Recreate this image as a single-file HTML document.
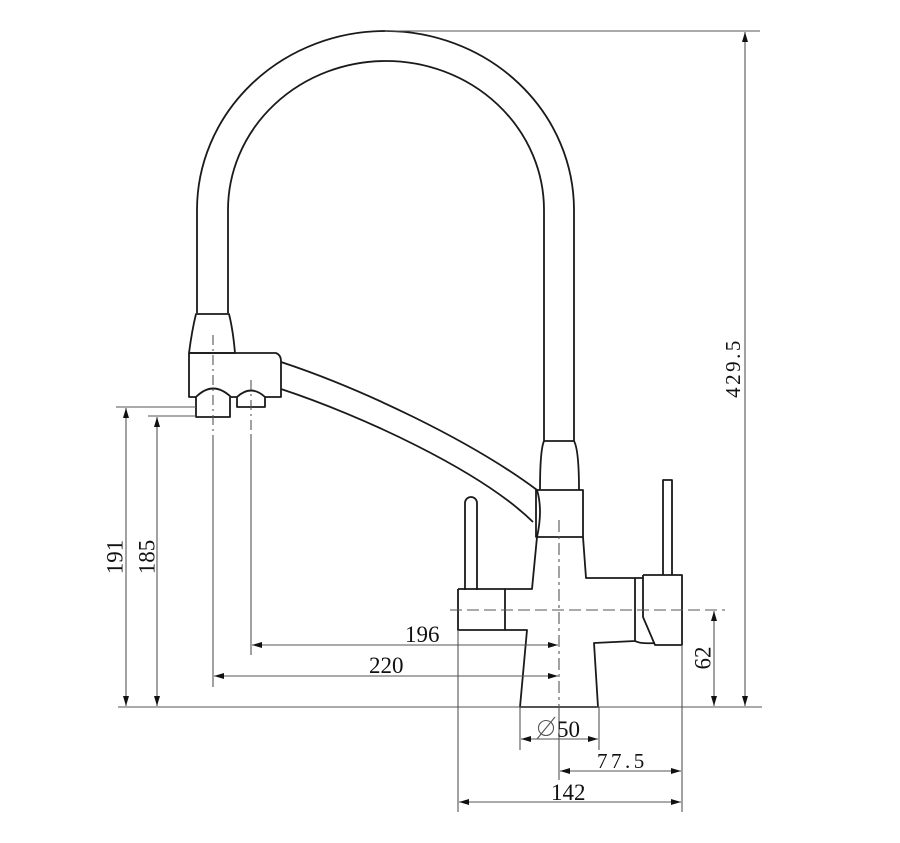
<!DOCTYPE html>
<html><head><meta charset="utf-8"><style>
html,body{margin:0;padding:0;background:#fff}
svg{display:block}
text{font-family:"Liberation Serif",serif;fill:#111}
</style></head><body>
<svg width="900" height="843" viewBox="0 0 900 843" xmlns="http://www.w3.org/2000/svg">
<defs>
<marker id="a" viewBox="0 0 10 6" refX="10" refY="3" markerWidth="10" markerHeight="6" orient="auto-start-reverse" markerUnits="userSpaceOnUse"><path d="M0,0 L10,3 L0,6 z" fill="#111"/></marker>
</defs>
<g fill="none" stroke="#1a1a1a" stroke-width="1.8" stroke-linejoin="round">
<path d="M197,313 L197,210 A188.5,179 0 0 1 574,210 L574,441"/>
<path d="M228,313 L228,210 A158,149 0 0 1 544,210 L544,441"/>
<path d="M196,314 L229,314 Q233,330 235,353 L189,353 Q192,330 196,314 Z"/>
<path d="M189,353 L276,353 Q281,355 281,361 L281,397 L265,397 M189,353 L189,397 L196,397"/>
<path d="M196,397 Q213,380 231,397 M196,397 L196,417 L230,417 L230,397"/>
<path d="M237,397 Q251,384 265,397 M237,397 L237,407 L265,407 L265,397 M231,397 L237,397"/>
<path d="M281,362 C360,388 470,440 537,490"/>
<path d="M281,389 C360,415 480,470 533,522"/>
<path d="M537,490 Q543,510 537,537"/>
<path d="M544,441 L574,441 Q579,450 579,490 M544,441 Q540,450 540,490"/>
<path d="M536,490 L583,490 L583,537 L536,537 Z"/>
<path d="M537,537 L532,589 L505,589 L505,630 L527,630 L520,707 L598,707 L594,643 L635,641 L635,578 L586,578 L583,537"/>
<path d="M458,589 L505,589 M458,589 L458,630 L505,630"/>
<path d="M635,578 L643,578 M635,641 Q640,644 655,643"/>
<path d="M643,575 L682,575 L682,645 L655,645 L643,617 L643,575"/>
<path d="M465,590 L465,503 A6,6 0 0 1 477,503 L477,590"/>
<path d="M663,575 L663,480 L672,480 L672,575"/>
</g>
<g fill="none" stroke="#555" stroke-width="1.1">
<line x1="385" y1="31" x2="760" y2="31"/>
<line x1="118" y1="707" x2="762" y2="707"/>
<line x1="745" y1="32" x2="745" y2="706" marker-start="url(#a)" marker-end="url(#a)"/>
<line x1="116" y1="407" x2="196" y2="407"/>
<line x1="148" y1="416" x2="196" y2="416"/>
<line x1="126" y1="408" x2="126" y2="706" marker-start="url(#a)" marker-end="url(#a)"/>
<line x1="157" y1="417" x2="157" y2="706" marker-start="url(#a)" marker-end="url(#a)"/>
<line x1="213" y1="435" x2="213" y2="687"/>
<line x1="251" y1="435" x2="251" y2="655"/>
<line x1="213" y1="335" x2="213" y2="435" stroke-dasharray="10,4,2,4"/>
<line x1="251" y1="380" x2="251" y2="435" stroke-dasharray="10,4,2,4"/>
<line x1="252" y1="645" x2="558" y2="645" marker-start="url(#a)" marker-end="url(#a)"/>
<line x1="214" y1="676" x2="558" y2="676" marker-start="url(#a)" marker-end="url(#a)"/>
<line x1="559" y1="520" x2="559" y2="705" stroke-dasharray="12,4,3,4"/>
<line x1="559" y1="705" x2="559" y2="780"/>
<line x1="450" y1="610" x2="725" y2="610" stroke-dasharray="12,5"/>
<line x1="714" y1="611" x2="714" y2="706" marker-start="url(#a)" marker-end="url(#a)"/>
<line x1="520" y1="707" x2="520" y2="750"/>
<line x1="599" y1="707" x2="599" y2="750"/>
<line x1="458" y1="630" x2="458" y2="812"/>
<line x1="682" y1="645" x2="682" y2="812"/>
<line x1="521" y1="739" x2="598" y2="739" marker-start="url(#a)" marker-end="url(#a)"/>
<line x1="560" y1="771" x2="681" y2="771" marker-start="url(#a)" marker-end="url(#a)"/>
<line x1="459" y1="802" x2="681" y2="802" marker-start="url(#a)" marker-end="url(#a)"/>
<circle cx="546" cy="728" r="7.5"/>
<line x1="537" y1="739" x2="555" y2="717"/>
</g>
<g font-size="23">
<text x="115" y="557" text-anchor="middle" dominant-baseline="central" transform="rotate(-90 115 557)">191</text>
<text x="147" y="557" text-anchor="middle" dominant-baseline="central" transform="rotate(-90 147 557)">185</text>
<text x="733" y="368" text-anchor="middle" dominant-baseline="central" transform="rotate(-90 733 368)" font-size="21" letter-spacing="2.5">429.5</text>
<text x="703" y="658" text-anchor="middle" dominant-baseline="central" transform="rotate(-90 703 658)">62</text>
<text x="405" y="642">196</text>
<text x="369" y="673">220</text>
<text x="557" y="737">50</text>
<text x="597" y="768" letter-spacing="3.5" font-size="21">77.5</text>
<text x="551" y="800">142</text>
</g>
</svg>
</body></html>
